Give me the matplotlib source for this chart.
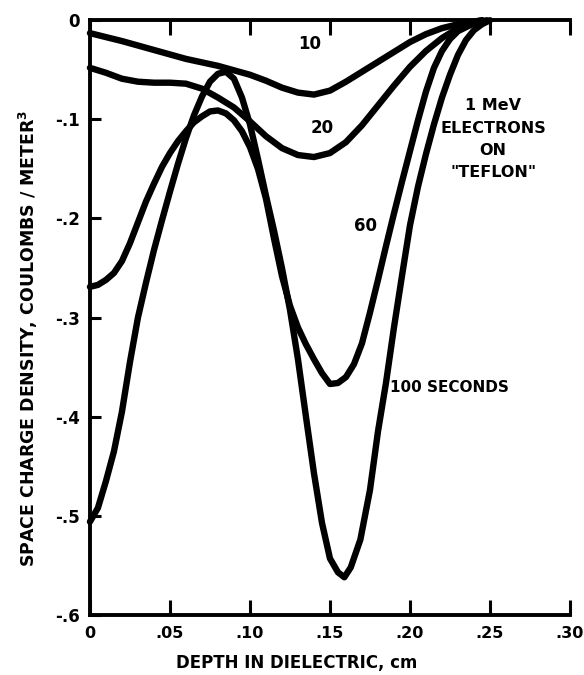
import matplotlib
matplotlib.use("Agg")
import matplotlib.pyplot as plt

# dados (profundidade em cm, densidade em C/m^3)
x_10 = [0, 0.02, 0.04, 0.06, 0.08, 0.10, 0.11, 0.12, 0.13, 0.14, 0.15, 0.16,
        0.17, 0.18, 0.19, 0.20, 0.21, 0.22, 0.23, 0.245]
y_10 = [-0.013, -0.021, -0.030, -0.039, -0.046, -0.055, -0.061, -0.068, -0.073,
        -0.075, -0.071, -0.062, -0.052, -0.042, -0.032, -0.022, -0.014, -0.008,
        -0.004, 0]

x_20 = [0, 0.01, 0.02, 0.03, 0.04, 0.05, 0.06, 0.07, 0.08, 0.09, 0.10, 0.11,
        0.12, 0.13, 0.14, 0.15, 0.16, 0.17, 0.18, 0.19, 0.20, 0.21, 0.22, 0.23,
        0.24, 0.245]
y_20 = [-0.048, -0.053, -0.059, -0.062, -0.063, -0.063, -0.064, -0.069, -0.078,
        -0.088, -0.102, -0.117, -0.129, -0.136, -0.138, -0.134, -0.123, -0.106,
        -0.086, -0.066, -0.047, -0.031, -0.018, -0.008, -0.002, 0]

x_60 = [0, 0.005, 0.01, 0.015, 0.02, 0.025, 0.03, 0.035, 0.04, 0.045, 0.05,
        0.055, 0.06, 0.065, 0.07, 0.075, 0.08, 0.085, 0.09, 0.095, 0.10, 0.105,
        0.11, 0.115, 0.12, 0.125, 0.13, 0.135, 0.14, 0.145, 0.15, 0.155, 0.16,
        0.165, 0.17, 0.175, 0.18, 0.185, 0.19, 0.195, 0.20, 0.205, 0.21, 0.215,
        0.22, 0.225, 0.23, 0.24, 0.248]
y_60 = [-0.269, -0.267, -0.262, -0.255, -0.243, -0.225, -0.204, -0.183, -0.165,
        -0.148, -0.134, -0.122, -0.112, -0.103, -0.097, -0.092, -0.091, -0.094,
        -0.101, -0.112, -0.128, -0.150, -0.180, -0.220, -0.258, -0.288, -0.310,
        -0.327, -0.342, -0.356, -0.367, -0.366, -0.360, -0.347, -0.326, -0.295,
        -0.262, -0.228, -0.195, -0.163, -0.132, -0.101, -0.072, -0.048, -0.031,
        -0.019, -0.011, -0.003, 0]

x_100 = [0, 0.005, 0.01, 0.015, 0.02, 0.025, 0.03, 0.035, 0.04, 0.045, 0.05,
         0.055, 0.06, 0.065, 0.07, 0.075, 0.08, 0.085, 0.09, 0.095, 0.10, 0.105,
         0.11, 0.115, 0.12, 0.125, 0.13, 0.135, 0.14, 0.145, 0.15, 0.155, 0.159,
         0.163, 0.169, 0.175, 0.18, 0.185, 0.19, 0.195, 0.20, 0.205, 0.21, 0.215,
         0.22, 0.225, 0.23, 0.235, 0.24, 0.245, 0.25]
y_100 = [-0.506, -0.492, -0.465, -0.435, -0.395, -0.345, -0.300, -0.265, -0.232,
         -0.202, -0.173, -0.145, -0.119, -0.096, -0.077, -0.062, -0.054, -0.052,
         -0.059, -0.078, -0.105, -0.140, -0.177, -0.212, -0.250, -0.292, -0.342,
         -0.400, -0.457, -0.507, -0.543, -0.557, -0.562, -0.552, -0.524, -0.474,
         -0.415, -0.366, -0.310, -0.258, -0.207, -0.168, -0.135, -0.105, -0.078,
         -0.055, -0.035, -0.020, -0.010, -0.004, 0]

xticks = [0, 0.05, 0.10, 0.15, 0.20, 0.25, 0.30]
xtick_labels = ['0', '.05', '.10', '.15', '.20', '.25', '.30']
yticks = [0, -0.1, -0.2, -0.3, -0.4, -0.5, -0.6]
ytick_labels = ['0', '-.1', '-.2', '-.3', '-.4', '-.5', '-.6']

plt.rcParams['font.family'] = 'DejaVu Sans'
plt.rcParams['font.weight'] = 'bold'

fig = plt.figure(figsize=(5.84, 6.75), dpi=100)
ax = fig.add_axes([0.154, 0.089, 0.822, 0.881])

for xs, ys in [(x_10, y_10), (x_20, y_20), (x_60, y_60), (x_100, y_100)]:
    ax.plot(xs, ys, color='black', lw=4.6, solid_capstyle='round',
            solid_joinstyle='round', clip_on=False)

ax.set_xlim(0, 0.30)
ax.set_ylim(-0.6, 0)

ax.spines['right'].set_visible(False)
for s in ['left', 'top', 'bottom']:
    ax.spines[s].set_linewidth(2.8)

ax.set_xticks(xticks)
ax.set_xticklabels(xtick_labels)
ax.set_yticks(yticks)
ax.set_yticklabels(ytick_labels)
ax.tick_params(axis='x', direction='in', length=11, width=2.2, top=True,
               labelsize=11.5, pad=8)
ax.tick_params(axis='y', direction='in', length=8, width=2.2, labelsize=12, pad=7)

ax.set_xlabel('DEPTH IN DIELECTRIC, cm', fontsize=12, fontweight='bold')
ax.xaxis.set_label_coords(0.43, -0.065)
ax.set_ylabel('SPACE CHARGE DENSITY, COULOMBS / METER$^\\mathbf{3}$',
              fontsize=12.5, fontweight='bold')
ax.yaxis.set_label_coords(-0.105, 0.466)

# rotulos das curvas
ax.text(0.1375, -0.024, '10', fontsize=12, fontweight='bold', ha='center', va='center')
ax.text(0.145, -0.109, '20', fontsize=12, fontweight='bold', ha='center', va='center')
ax.text(0.172, -0.208, '60', fontsize=12, fontweight='bold', ha='center', va='center')
ax.text(0.1875, -0.371, '100 SECONDS', fontsize=11, fontweight='bold',
        ha='left', va='center')
ax.text(0.252, -0.120, '1 MeV\nELECTRONS\nON\n"TEFLON"', fontsize=11.5,
        fontweight='bold', ha='center', va='center', multialignment='center',
        linespacing=1.6)

fig.savefig('out.png', dpi=100)
